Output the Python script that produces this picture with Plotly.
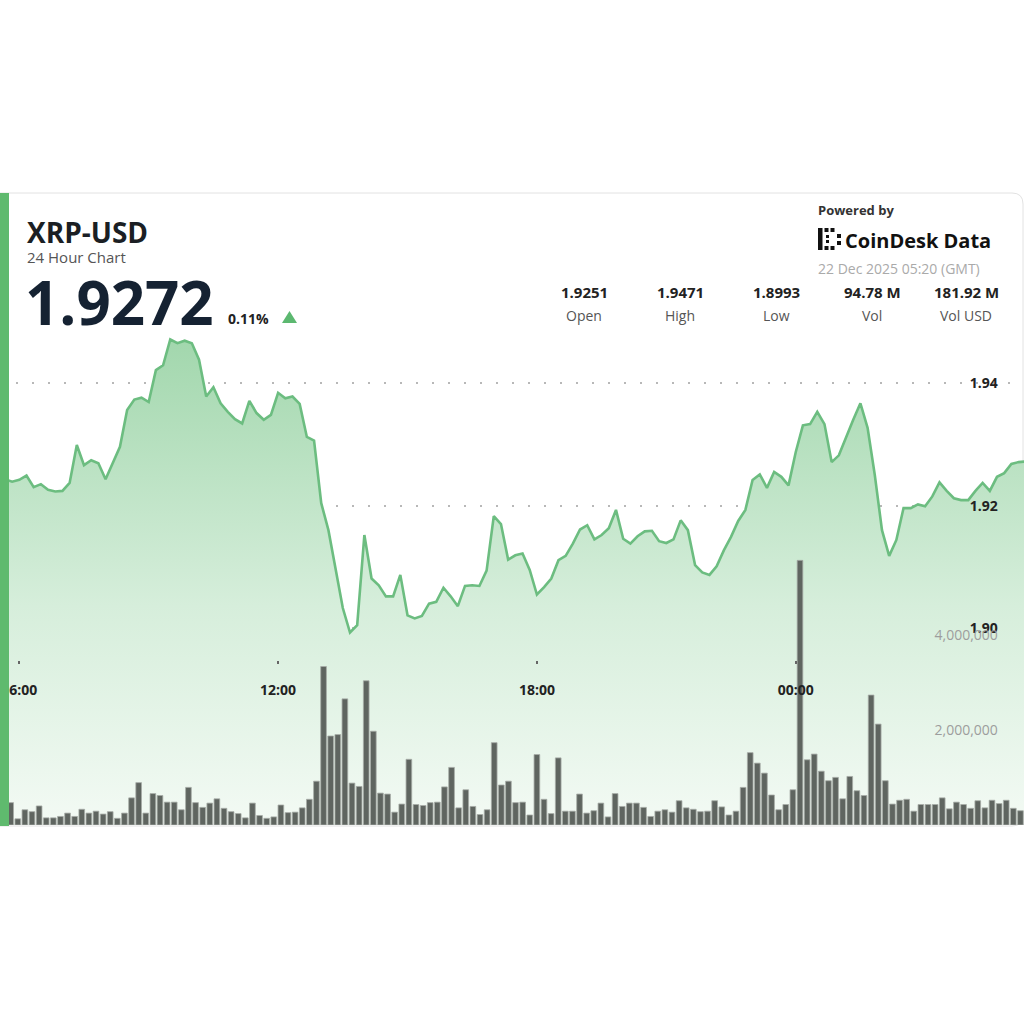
import plotly.graph_objects as go
import pandas as pd

# ---------------- data ----------------
price_times = pd.date_range("2025-12-21 05:20", periods=145, freq="10min")
prices = [
    1.9251, 1.9245, 1.9243, 1.9239, 1.9242, 1.9249, 1.9230, 1.9235, 1.9226, 1.9223,
    1.9224, 1.9237, 1.9299, 1.9266, 1.9274, 1.9269, 1.9243, 1.9269, 1.9296, 1.9356,
    1.9373, 1.9376, 1.9369, 1.9421, 1.9429, 1.9471, 1.9465, 1.9469, 1.9465, 1.9438,
    1.9378, 1.9393, 1.9367, 1.9353, 1.9341, 1.9334, 1.9371, 1.9351, 1.9340, 1.9348,
    1.9384, 1.9375, 1.9378, 1.9366, 1.9312, 1.9306, 1.9204, 1.9160, 1.9095, 1.9033,
    1.8993, 1.9005, 1.9152, 1.9081, 1.9070, 1.9052, 1.9052, 1.9087, 1.9021, 1.9016,
    1.9020, 1.9040, 1.9043, 1.9066, 1.9052, 1.9036, 1.9069, 1.9070, 1.9069, 1.9094,
    1.9183, 1.9170, 1.9112, 1.9119, 1.9122, 1.9095, 1.9055, 1.9067, 1.9081, 1.9111,
    1.9118, 1.9138, 1.9161, 1.9168, 1.9145, 1.9152, 1.9163, 1.9193, 1.9146, 1.9138,
    1.9150, 1.9158, 1.9159, 1.9142, 1.9139, 1.9145, 1.9176, 1.9160, 1.9103, 1.9091,
    1.9087, 1.9101, 1.9127, 1.9149, 1.9175, 1.9193, 1.9242, 1.9251, 1.9229, 1.9255,
    1.9247, 1.9233, 1.9287, 1.9331, 1.9333, 1.9353, 1.9333, 1.9271, 1.9282, 1.9312,
    1.9340, 1.9367, 1.9327, 1.9250, 1.9160, 1.9118, 1.9144, 1.9196, 1.9196, 1.9202,
    1.9199, 1.9215, 1.9238, 1.9224, 1.9212, 1.9209, 1.9209, 1.9224, 1.9237, 1.9224,
    1.9247, 1.9253, 1.9268, 1.9271, 1.9272,
]

volume_times = pd.date_range("2025-12-21 05:20", periods=144, freq="10min")
volumes_millions = [
    0.30, 0.47, 0.13, 0.32, 0.28, 0.40, 0.15, 0.15, 0.18, 0.25,
    0.18, 0.33, 0.25, 0.29, 0.23, 0.28, 0.14, 0.25, 0.57, 0.89,
    0.25, 0.66, 0.62, 0.48, 0.48, 0.32, 0.79, 0.47, 0.37, 0.46,
    0.55, 0.35, 0.28, 0.24, 0.15, 0.46, 0.20, 0.14, 0.17, 0.42,
    0.26, 0.27, 0.36, 0.54, 0.92, 3.33, 1.87, 1.90, 2.65, 0.88,
    0.81, 3.03, 1.97, 0.67, 0.65, 0.27, 0.44, 1.38, 0.43, 0.41,
    0.47, 0.48, 0.80, 1.21, 0.36, 0.74, 0.39, 0.22, 0.32, 1.73,
    0.84, 0.92, 0.47, 0.48, 0.21, 1.48, 0.54, 0.24, 1.41, 0.29,
    0.29, 0.65, 0.25, 0.30, 0.46, 0.17, 0.66, 0.39, 0.46, 0.46,
    0.37, 0.18, 0.29, 0.32, 0.27, 0.51, 0.36, 0.33, 0.28, 0.29,
    0.51, 0.38, 0.21, 0.29, 0.79, 1.52, 1.30, 1.09, 0.63, 0.32,
    0.43, 0.74, 5.56, 1.37, 1.49, 1.13, 0.93, 1.00, 0.55, 1.02,
    0.72, 0.62, 2.73, 2.12, 0.93, 0.44, 0.52, 0.54, 0.29, 0.43,
    0.43, 0.43, 0.57, 0.34, 0.48, 0.43, 0.35, 0.51, 0.36, 0.52,
    0.45, 0.52, 0.35, 0.30,
]
volumes = [v * 1e6 for v in volumes_millions]

time_tick_values = ["2025-12-21 06:00", "2025-12-21 12:00", "2025-12-21 18:00", "2025-12-22 00:00"]
time_tick_labels = ["06:00", "12:00", "18:00", "00:00"]
price_tick_values = [1.90, 1.92, 1.94]
price_tick_labels = ["1.90", "1.92", "1.94"]
volume_tick_values = [2e6, 4e6]
volume_tick_labels = ["2,000,000", "4,000,000"]

symbol = "XRP-USD"
subtitle = "24 Hour Chart"
last_price = "1.9272"
change_pct = "0.11%"
stat_values = ["1.9251", "1.9471", "1.8993", "94.78 M", "181.92 M"]
stat_labels = ["Open", "High", "Low", "Vol", "Vol USD"]
timestamp = "22 Dec 2025 05:20 (GMT)"

# ---------------- helpers ----------------
W = H = 1024
def px(x):
    return x / W
def py(y):
    return 1 - y / H

FONT = "Open Sans"
GREEN = "#6cbd80"

fig = go.Figure()

fig.add_trace(go.Scatter(
    x=price_times, y=prices, mode="lines",
    line=dict(color=GREEN, width=2.6),
    fill="tozeroy",
    fillgradient=dict(
        type="vertical",
        colorscale=[[0.0, "#f3faf4"], [0.45, "#d6eedb"], [1.0, "#a2d7ad"]],
        start=1.868, stop=1.9471,
    ),
    xaxis="x", yaxis="y", hoverinfo="skip",
))

fig.add_trace(go.Bar(
    x=volume_times, y=volumes,
    marker=dict(color="#5f6560", line=dict(color="#a7aca7", width=0.8)),
    xaxis="x2", yaxis="y2", hoverinfo="skip",
))

ydom = [py(825), py(330)]

fig.update_layout(
    width=W, height=H,
    margin=dict(l=0, r=0, t=0, b=0),
    paper_bgcolor="white", plot_bgcolor="rgba(0,0,0,0)",
    showlegend=False, hovermode=False, bargap=0.2,
    font=dict(family=FONT),
    xaxis=dict(
        type="date", domain=[0, 1], anchor="free", position=py(660),
        range=["2025-12-21 05:33:09", "2025-12-22 05:17:33"],
        tickvals=time_tick_values, ticktext=time_tick_labels,
        ticks="outside", ticklen=3, tickwidth=2, tickcolor="#666",
        ticklabelstandoff=14,
        tickfont=dict(family=FONT, size=14, color="#222", weight="bold"),
        showgrid=False, showline=False, zeroline=False,
    ),
    xaxis2=dict(
        type="date", overlaying="x", anchor="y2",
        range=["2025-12-21 05:15", "2025-12-22 05:15"],
        visible=False, showgrid=False,
    ),
    yaxis=dict(
        domain=ydom, range=[1.86790, 1.94865], side="right", anchor="x",
        tickvals=price_tick_values, ticktext=price_tick_labels,
        ticklabelposition="inside", ticks="inside", ticklen=26,
        tickcolor="rgba(0,0,0,0)",
        tickfont=dict(family=FONT, size=14, color="#222", weight="bold"),
        showgrid=True, gridcolor="#b8b8b8", gridwidth=1.5, griddash="1.5px,14.5px",
        zeroline=False, showline=False,
    ),
    yaxis2=dict(
        overlaying="y", anchor="x2", side="right", range=[0, 10.4e6],
        tickvals=volume_tick_values, ticktext=volume_tick_labels,
        ticklabelposition="inside", ticks="inside", ticklen=26,
        tickcolor="rgba(0,0,0,0)",
        tickfont=dict(family=FONT, size=14, color="#9d9d9d"),
        showgrid=True, gridcolor="#c4c4c4", gridwidth=1.5, griddash="1.5px,14.5px",
        zeroline=False, showline=False,
    ),
)

shapes = []
# card
card = (f"M {px(-10)},{py(193)} L {px(1012)},{py(193)} "
        f"Q {px(1023)},{py(193)} {px(1023)},{py(204)} "
        f"L {px(1023)},{py(815)} Q {px(1023)},{py(826)} {px(1012)},{py(826)} "
        f"L {px(-10)},{py(826)} Z")
shapes.append(dict(type="path", path=card, xref="paper", yref="paper",
                   line=dict(color="#e2e2e2", width=1), fillcolor="white", layer="below"))
# green left accent bar
shapes.append(dict(type="rect", xref="paper", yref="paper",
                   x0=px(0), x1=px(9), y0=py(826), y1=py(193),
                   fillcolor="#5fba6e", line=dict(width=0), layer="above"))
# up triangle
tri = f"M {px(282)},{py(323)} L {px(297)},{py(323)} L {px(289.5)},{py(311)} Z"
shapes.append(dict(type="path", path=tri, xref="paper", yref="paper",
                   fillcolor="#5cb870", line=dict(width=0)))
# CoinDesk logo mark
logo_rects = [
    (818, 228, 822.5, 250),
    (824.5, 228, 828.5, 232), (830.5, 228, 834.5, 232),
    (824.5, 246, 828.5, 250), (830.5, 246, 834.5, 250),
    (826, 235, 829, 238), (826, 240, 829, 243),
    (837, 234, 841, 238), (837, 241, 841, 245),
]
for (x0, y0, x1, y1) in logo_rects:
    shapes.append(dict(type="rect", xref="paper", yref="paper",
                       x0=px(x0), x1=px(x1), y0=py(y1), y1=py(y0),
                       fillcolor="#111", line=dict(width=0)))
fig.update_layout(shapes=shapes)

ann = []
def text(s, x, y, size, color, bold=False, anchor="left"):
    ann.append(dict(text=s, x=px(x), y=py(y), xref="paper", yref="paper",
                    xanchor=anchor, yanchor="middle", showarrow=False,
                    font=dict(family=FONT, size=size, color=color,
                              weight="bold" if bold else "normal")))

text(symbol, 25, 232, 28, "#1b1f24", bold=True)
text(subtitle, 25, 257, 15, "#555555")
text(last_price, 23, 302, 60, "#152232", bold=True)
text(change_pct, 226, 318, 14, "#222222", bold=True)
text("Powered by", 816, 210, 13, "#333333", bold=True)
text("CoinDesk Data", 843, 240, 20, "#111111", bold=True)
text(timestamp, 816, 268, 14, "#aaaaaa")
stat_centers = [584, 680, 776, 872, 966]
for cx, v, lab in zip(stat_centers, stat_values, stat_labels):
    text(v, cx, 292, 15, "#222222", bold=True, anchor="center")
    text(lab, cx, 315, 14, "#555555", anchor="center")
fig.update_layout(annotations=ann)

fig.write_html("out.html")
